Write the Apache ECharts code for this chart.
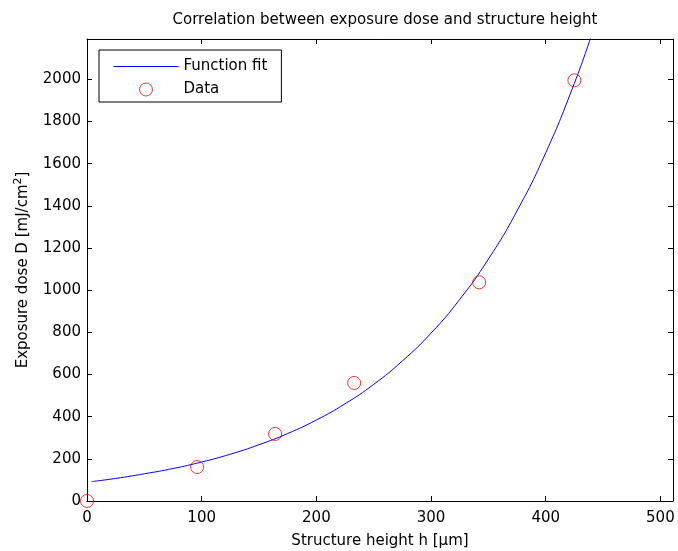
<!DOCTYPE html>
<html>
<head>
<meta charset="utf-8">
<script src="https://cdn.jsdelivr.net/npm/echarts@6/dist/echarts.min.js"></script>
<style>html,body{margin:0;padding:0;background:#fff;}#c{width:678px;height:551px;}</style>
</head>
<body>
<div id="c"></div>
<script>
// Measured data points (structure height h [µm], dose D [mJ/cm²])
const dataH = [0, 96, 164, 233, 342, 425];
const dataD = [0, 161, 318, 560, 1037, 1995];
// Function fit curve
const fitH = [4, 25, 50, 75, 100, 125, 150, 175, 200, 225, 250, 275, 300, 325, 350, 375, 400, 425, 440];
const fitD = [92, 107, 129, 154, 185, 222, 267, 320, 384, 461, 553, 664, 796, 956, 1147, 1376, 1651, 1981, 2210];
const xTicks = { min: 0, max: 511, interval: 100 };
const yTicks = { min: 0, max: 2191, interval: 200 };

const FONT = '"DejaVu Sans", Verdana, sans-serif';
const FS = 15;
const chart = echarts.init(document.getElementById('c'), null, { renderer: 'canvas' });

const axisCommon = {
  type: 'value',
  axisLine: { show: true, onZero: false, lineStyle: { color: '#000', width: 1 } },
  axisTick: { show: true, inside: true, length: 5, lineStyle: { color: '#000', width: 1 } },
  splitLine: { show: false }
};
const labelStyle = { color: '#000', fontSize: FS, fontFamily: FONT, showMaxLabel: false, formatter: v => String(v) };

chart.setOption({
  animation: false,
  backgroundColor: '#fff',
  title: {
    text: 'Correlation between exposure dose and structure height',
    left: 380, top: 8, textAlign: 'center',
    textStyle: { color: '#000', fontSize: FS, fontWeight: 'normal', fontFamily: FONT }
  },
  grid: { left: 87, top: 39, right: 5, bottom: 50, containLabel: false, outerBoundsMode: 'none' },
  legend: {
    orient: 'vertical', left: 99, top: 50,
    padding: [9, 14, 5, 14],
    itemWidth: 65, itemHeight: 13, itemGap: 8,
    borderColor: '#000', borderWidth: 1, backgroundColor: '#fff',
    textStyle: { color: '#000', fontSize: FS, fontFamily: FONT },
    data: [
      { name: 'Function fit', itemStyle: { color: '#0000ff', opacity: 0 }, lineStyle: { color: '#0000ff', width: 1, opacity: 1 } },
      { name: 'Data', itemStyle: { color: 'rgba(0,0,0,0)', borderColor: '#ff0000', borderWidth: 1 } }
    ]
  },
  xAxis: [
    Object.assign({}, axisCommon, {
      min: xTicks.min, max: xTicks.max, interval: xTicks.interval, position: 'bottom',
      axisLabel: Object.assign({}, labelStyle, { margin: 10 }),
      name: 'Structure height h [μm]', nameLocation: 'middle', nameGap: 33,
      nameTextStyle: { color: '#000', fontSize: FS, fontFamily: FONT }
    }),
    Object.assign({}, axisCommon, {
      min: xTicks.min, max: xTicks.max, interval: xTicks.interval, position: 'top',
      axisLabel: { show: false }
    })
  ],
  yAxis: [
    Object.assign({}, axisCommon, {
      min: yTicks.min, max: yTicks.max, interval: yTicks.interval, position: 'left',
      axisLabel: Object.assign({}, labelStyle, { margin: 6, verticalAlign: 'middle' }),
      name: 'Exposure dose D [mJ/cm{sup|2}]', nameLocation: 'middle', nameGap: 53,
      nameTextStyle: { color: '#000', fontSize: FS, fontFamily: FONT,
        rich: { sup: { fontSize: 11, verticalAlign: 'top', padding: [0, 0, 10, 0], color: '#000', fontFamily: FONT } } }
    }),
    Object.assign({}, axisCommon, {
      min: yTicks.min, max: yTicks.max, interval: yTicks.interval, position: 'right',
      axisLabel: { show: false }
    })
  ],
  series: [
    {
      name: 'Function fit', type: 'line', smooth: true, showSymbol: false, symbol: 'none',
      xAxisIndex: 0, yAxisIndex: 0, clip: true,
      lineStyle: { color: '#0000ff', width: 1 }, itemStyle: { color: '#0000ff' },
      data: fitH.map((h, i) => [h, fitD[i]]), z: 2
    },
    {
      name: 'Data', type: 'scatter', symbol: 'circle', symbolSize: 13,
      xAxisIndex: 0, yAxisIndex: 0, clip: false,
      itemStyle: { color: 'rgba(0,0,0,0)', borderColor: '#ff0000', borderWidth: 1 },
      data: dataH.map((h, i) => [h, dataD[i]]), z: 3
    }
  ]
});
</script>
</body>
</html>
